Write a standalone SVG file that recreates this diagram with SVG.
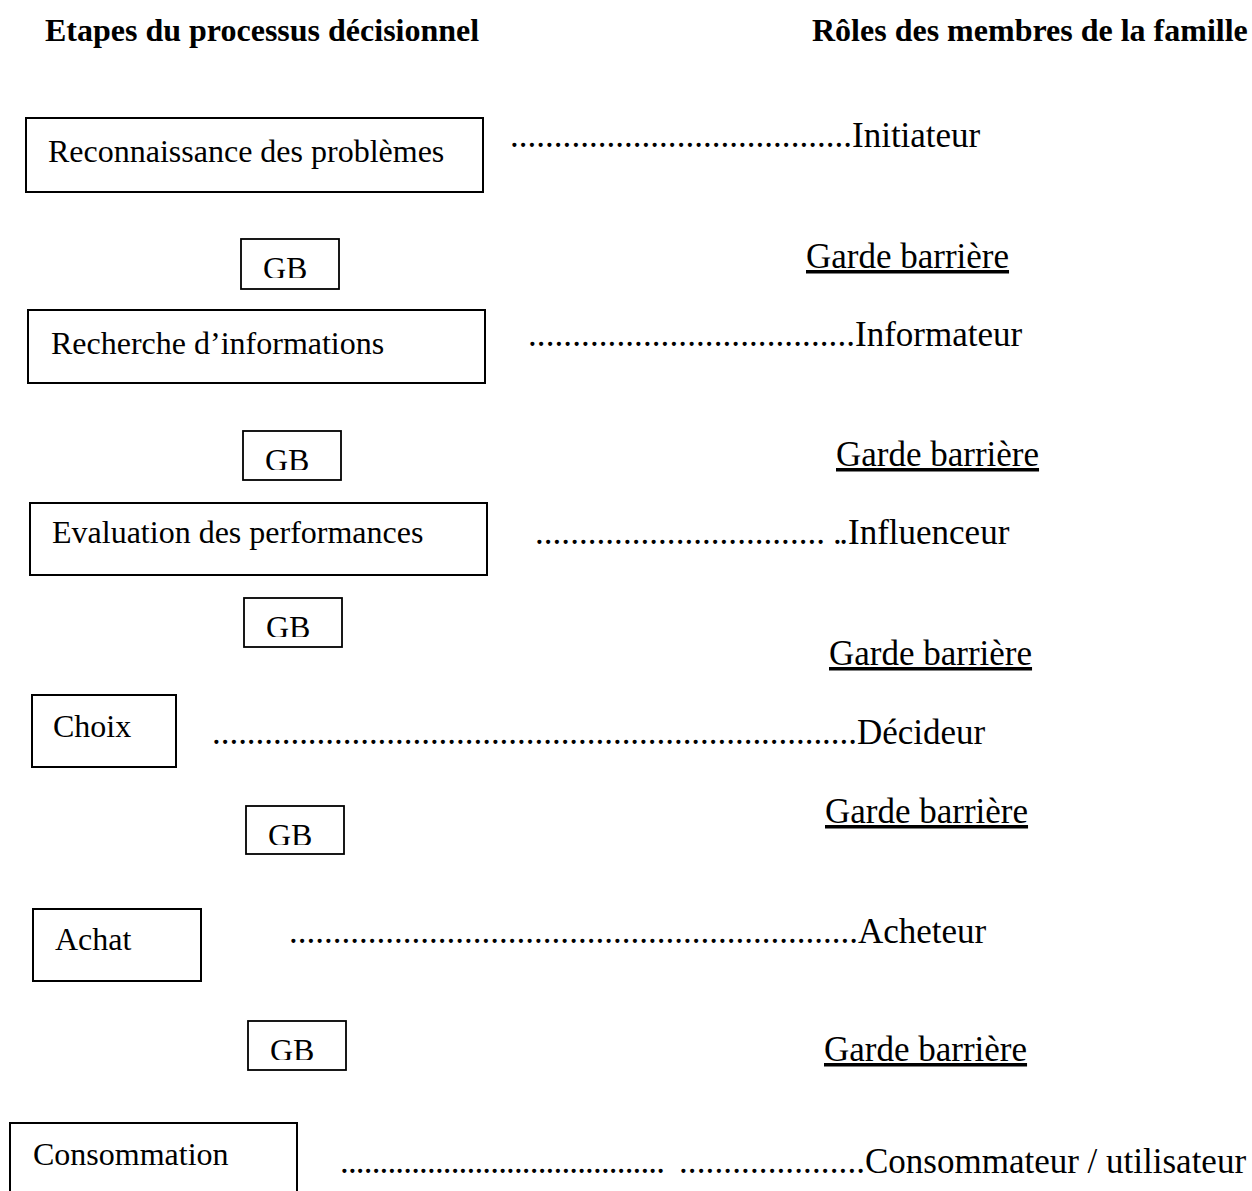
<svg xmlns="http://www.w3.org/2000/svg" width="1252" height="1191" viewBox="0 0 1252 1191">
  <style>
    text { font-family: "Liberation Serif", "Times New Roman", serif; fill: #000; }
    .head { font-size: 32px; font-weight: bold; }
    .step { font-size: 32px; }
    .role { font-size: 35px; }
    .gb { font-size: 32px; }
    .gate { font-size: 35px; text-decoration: underline; }
    .box { fill: #fff; stroke: #000; stroke-width: 2; }
    .gbbox { fill: #fff; stroke: #000; stroke-width: 1.8; }
  </style>
  <defs>
    <!-- the GB labels are cropped by the lower part of their frames -->
    <clipPath id="clip-gb1"><rect x="241" y="239" width="98" height="39"/></clipPath>
    <clipPath id="clip-gb2"><rect x="243" y="431" width="98" height="39"/></clipPath>
    <clipPath id="clip-gb3"><rect x="244" y="598" width="98" height="39"/></clipPath>
    <clipPath id="clip-gb4"><rect x="246" y="806" width="98" height="39"/></clipPath>
    <clipPath id="clip-gb5"><rect x="248" y="1021" width="98" height="39"/></clipPath>
  </defs>

  <rect width="1252" height="1191" fill="#fff"/>

  <!-- column headings -->
  <g id="headings">
    <text class="head" x="45" y="41">Etapes du processus décisionnel</text>
    <text class="head" x="812" y="41">Rôles des membres de la famille</text>
  </g>

  <!-- decision stages -->
  <g id="step-reconnaissance">
    <rect class="box" x="26" y="118" width="457" height="74"/>
    <text class="step" x="48" y="162">Reconnaissance des problèmes</text>
  </g>
  <g id="step-recherche">
    <rect class="box" x="28" y="310" width="457" height="73"/>
    <text class="step" x="51" y="354">Recherche d’informations</text>
  </g>
  <g id="step-evaluation">
    <rect class="box" x="30" y="503" width="457" height="72"/>
    <text class="step" x="52" y="543">Evaluation des performances</text>
  </g>
  <g id="step-choix">
    <rect class="box" x="32" y="695" width="144" height="72"/>
    <text class="step" x="53" y="737">Choix</text>
  </g>
  <g id="step-achat">
    <rect class="box" x="33" y="909" width="168" height="72"/>
    <text class="step" x="55" y="950">Achat</text>
  </g>
  <g id="step-consommation">
    <rect class="box" x="10" y="1123" width="287" height="100"/>
    <text class="step" x="33" y="1165">Consommation</text>
  </g>

  <!-- gatekeeper (GB) boxes between stages -->
  <g id="gb-1">
    <rect class="gbbox" x="241" y="239" width="98" height="50"/>
    <text class="gb" x="263" y="279" clip-path="url(#clip-gb1)">GB</text>
  </g>
  <g id="gb-2">
    <rect class="gbbox" x="243" y="431" width="98" height="49"/>
    <text class="gb" x="265" y="471" clip-path="url(#clip-gb2)">GB</text>
  </g>
  <g id="gb-3">
    <rect class="gbbox" x="244" y="598" width="98" height="49"/>
    <text class="gb" x="266" y="638" clip-path="url(#clip-gb3)">GB</text>
  </g>
  <g id="gb-4">
    <rect class="gbbox" x="246" y="806" width="98" height="48"/>
    <text class="gb" x="268" y="846" clip-path="url(#clip-gb4)">GB</text>
  </g>
  <g id="gb-5">
    <rect class="gbbox" x="248" y="1021" width="98" height="49"/>
    <text class="gb" x="270" y="1061" clip-path="url(#clip-gb5)">GB</text>
  </g>

  <!-- dotted leaders joining stages to roles -->
  <g id="connectors">
    <text class="role" x="510" y="147" textLength="342" lengthAdjust="spacing">.......................................</text>
    <text class="role" x="528" y="346" textLength="327" lengthAdjust="spacing">.....................................</text>
    <text class="role" x="535" y="544" textLength="290" lengthAdjust="spacing">.................................</text>
    <text class="role" x="833" y="544" textLength="15" lengthAdjust="spacing">..</text>
    <text class="role" x="212" y="744" textLength="645" lengthAdjust="spacing">..........................................................................</text>
    <text class="role" x="289" y="943" textLength="569" lengthAdjust="spacing">.................................................................</text>
    <text class="role" x="340" y="1173" textLength="325" lengthAdjust="spacing">.........................................</text>
    <text class="role" x="679" y="1173" textLength="186" lengthAdjust="spacing">.....................</text>
  </g>

  <!-- family member roles -->
  <g id="role-initiateur"><text class="role" x="852" y="147">Initiateur</text></g>
  <g id="role-informateur"><text class="role" x="855" y="346">Informateur</text></g>
  <g id="role-influenceur"><text class="role" x="848" y="544">Influenceur</text></g>
  <g id="role-decideur"><text class="role" x="857" y="744">Décideur</text></g>
  <g id="role-acheteur"><text class="role" x="858" y="943">Acheteur</text></g>
  <g id="role-consommateur"><text class="role" x="865" y="1173">Consommateur / utilisateur</text></g>

  <!-- gatekeeper role labels -->
  <g id="role-garde-1"><text class="gate" x="806" y="268">Garde barrière</text></g>
  <g id="role-garde-2"><text class="gate" x="836" y="466">Garde barrière</text></g>
  <g id="role-garde-3"><text class="gate" x="829" y="665">Garde barrière</text></g>
  <g id="role-garde-4"><text class="gate" x="825" y="823">Garde barrière</text></g>
  <g id="role-garde-5"><text class="gate" x="824" y="1061">Garde barrière</text></g>
</svg>
